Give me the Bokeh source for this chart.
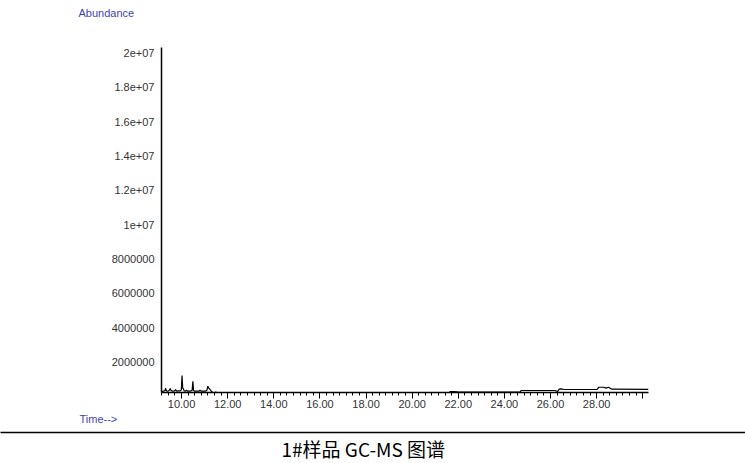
from bokeh.plotting import figure
from bokeh.layouts import column
from bokeh.models import Range1d, FixedTicker, Title
from bokeh.embed import file_html
from bokeh.resources import INLINE
from bokeh.core.properties import value

# ---- data ----
rt_min = [9.13, 9.22, 9.28, 9.31, 9.34, 9.40, 9.46, 9.51, 9.55, 9.62, 9.70, 9.74, 9.78,
          9.86, 9.94, 9.99, 10.02, 10.05, 10.08, 10.11, 10.18, 10.22, 10.26, 10.34, 10.42,
          10.46, 10.49, 10.52, 10.56, 10.66, 10.76, 10.80, 10.84, 10.95, 11.05, 11.10, 11.14,
          11.18, 11.22, 11.28, 11.33, 11.36, 11.45, 11.48, 11.52, 11.60, 21.60, 21.66, 21.80,
          21.95, 22.00, 24.68, 24.72, 26.20, 26.30, 26.38, 26.46, 26.60, 28.02, 28.10, 28.32,
          28.40, 28.52, 28.66, 30.25]
abundance = [295000, 315000, 355000, 485000, 335000, 315000, 355000, 475000, 345000, 325000,
             335000, 415000, 325000, 335000, 335000, 395000, 1225000, 495000, 455000, 335000,
             315000, 385000, 315000, 325000, 335000, 375000, 895000, 365000, 315000, 315000,
             325000, 375000, 315000, 315000, 325000, 375000, 605000, 495000, 435000, 335000,
             265000, 240000, 240000, 275000, 240000, 240000, 240000, 295000, 295000, 275000,
             265000, 265000, 355000, 355000, 295000, 435000, 455000, 415000, 425000, 545000,
             545000, 495000, 545000, 435000, 425000]

x_major = [10, 12, 14, 16, 18, 20, 22, 24, 26, 28, 30]
x_labels = ["10.00", "12.00", "14.00", "16.00", "18.00", "20.00", "22.00", "24.00",
            "26.00", "28.00", ""]
y_ticks = [2e6, 4e6, 6e6, 8e6, 1e7, 1.2e7, 1.4e7, 1.6e7, 1.8e7, 2e7]
y_labels = ["2000000", "4000000", "6000000", "8000000", "1e+07", "1.2e+07", "1.4e+07",
            "1.6e+07", "1.8e+07", "2e+07"]
y_title = "Abundance"
x_title = "Time-->"
caption = "1#样品 GC-MS 图谱"

FONT = "Liberation Sans"
BLUE = "#3f3fb5"
GREY = "#333333"

W = 745
H0, H1, H2 = 28, 398, 37

# top strip carrying the "Abundance" heading
t = figure(width=W, height=H0, output_backend="svg", toolbar_location=None, title=y_title,
           x_range=Range1d(0, 1), y_range=Range1d(0, 1),
           min_border_left=78, min_border_right=0, min_border_top=0, min_border_bottom=0)
t.frame_align = False
t.background_fill_color = "white"
t.border_fill_color = "white"
t.outline_line_color = None
t.grid.visible = False
t.xaxis.visible = False
t.yaxis.visible = False
t.title.align = "left"
t.title.vertical_align = "top"
t.title.offset = 0
t.title.standoff = 12
t.title.text_font = FONT
t.title.text_font_size = "11px"
t.title.text_font_style = "normal"
t.title.text_color = BLUE

p = figure(width=W, height=H1, output_backend="svg", toolbar_location=None,
           x_range=Range1d(9.13, 30.25), y_range=Range1d(240000, 20310000),
           min_border_left=161, min_border_right=97, min_border_top=19, min_border_bottom=34)
p.frame_align = False
p.title.standoff = 0
p.background_fill_color = "white"
p.border_fill_color = "white"
p.outline_line_color = None
p.xgrid.visible = False
p.ygrid.visible = False

p.line(rt_min, abundance, line_color="black", line_width=1.2)

# x axis
minor = [m + k * 2 / 7 for m in range(8, 32, 2) for k in range(1, 7)]
minor = [v for v in minor if 9.13 <= v <= 30.25]
xa = p.xaxis[0]
xa.ticker = FixedTicker(ticks=x_major, minor_ticks=minor)
xa.major_label_overrides = {k: s for k, s in zip(x_major, x_labels)}
xa.axis_line_color = "black"
xa.axis_line_width = 1.5
xa.major_tick_line_color = "black"
xa.major_tick_out = 6
xa.major_tick_in = 0
xa.minor_tick_line_color = "black"
xa.minor_tick_out = 3
xa.minor_tick_in = 0
xa.major_label_standoff = 1
xa.major_label_text_font = FONT
xa.major_label_text_font_size = "11px"
xa.major_label_text_color = GREY

# y axis
ya = p.yaxis[0]
ya.ticker = FixedTicker(ticks=y_ticks)
ya.major_label_overrides = {k: s for k, s in zip(y_ticks, y_labels)}
ya.axis_line_color = "black"
ya.axis_line_width = 1.5
ya.major_tick_line_color = None
ya.major_tick_out = 0
ya.major_tick_in = 0
ya.minor_tick_line_color = None
ya.major_label_standoff = 7
ya.major_label_text_font = FONT
ya.major_label_text_font_size = "11px"
ya.major_label_text_color = GREY

p.add_layout(Title(text=x_title, align="left", offset=-82, standoff=0,
                   text_font=FONT, text_font_size="11px", text_font_style="normal",
                   text_color=BLUE), "below")

# caption strip with its rule line on top
c = figure(width=W, height=H2, output_backend="svg", toolbar_location=None,
           x_range=Range1d(0, 1), y_range=Range1d(0, 1),
           min_border_left=0, min_border_right=0, min_border_top=6, min_border_bottom=0,
           x_axis_location="above")
c.frame_align = False
c.background_fill_color = "white"
c.border_fill_color = "white"
c.outline_line_color = None
c.grid.visible = False
c.yaxis.visible = False
ca = c.xaxis[0]
ca.ticker = FixedTicker(ticks=[])
ca.axis_line_color = "black"
ca.axis_line_width = 1.6
ca.major_tick_line_color = None
ca.minor_tick_line_color = None
ca.major_label_standoff = 0
c.text(x=[0.487], y=[0.5], text=[caption], text_align="center", text_baseline="middle",
       text_font=value("Noto Sans CJK SC"), text_font_size="19px", text_color="black")

layout = column(t, p, c, spacing=0)
open("out.html", "w").write(file_html(layout, INLINE))
